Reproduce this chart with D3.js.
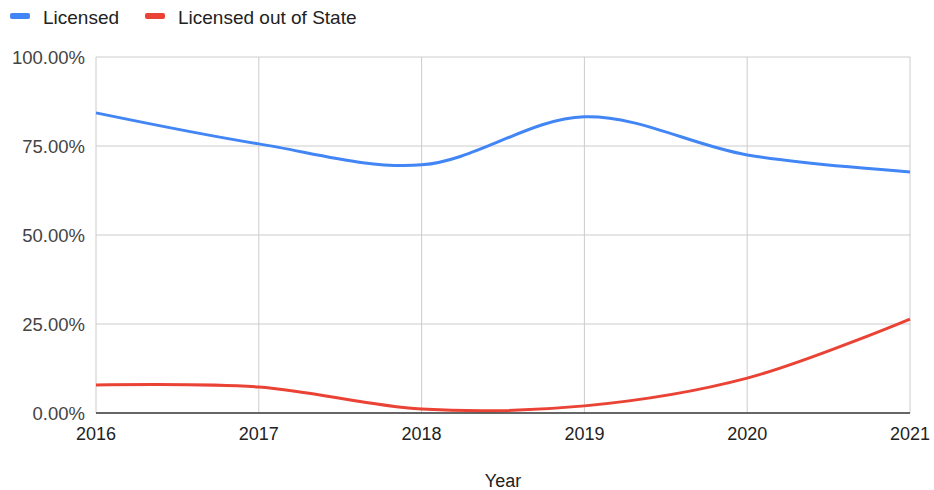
<!DOCTYPE html>
<html>
<head>
<meta charset="utf-8">
<script src="https://cdn.jsdelivr.net/npm/d3@7"></script>
<style>
  body { margin: 0; background: #fff; }
  svg { display: block; font-family: "Liberation Sans", Arial, sans-serif; }
</style>
</head>
<body>
<svg id="chart" width="934" height="490"></svg>
<script>
const years = [2016, 2017, 2018, 2019, 2020, 2021];
const licensed = [0.843, 0.756, 0.697, 0.832, 0.725, 0.677];
const outOfState = [0.079, 0.073, 0.011, 0.020, 0.098, 0.264];
const yTicks = [0, 0.25, 0.5, 0.75, 1];
const seriesNames = ['Licensed', 'Licensed out of State'];
const colors = ['#4285f4', '#ea4335'];

const svg = d3.select('#chart');
const x = d3.scaleLinear().domain([2016, 2021]).range([96, 910]);
const y = d3.scaleLinear().domain([0, 1]).range([413, 57]);

// grid
svg.append('g')
  .selectAll('line')
  .data(yTicks.slice(1))
  .join('line')
  .attr('x1', 96).attr('x2', 910)
  .attr('y1', d => y(d)).attr('y2', d => y(d))
  .attr('stroke', '#cccccc').attr('stroke-width', 1);

svg.append('g')
  .selectAll('line')
  .data(years)
  .join('line')
  .attr('x1', d => x(d)).attr('x2', d => x(d))
  .attr('y1', y(1)).attr('y2', y(0))
  .attr('stroke', '#cccccc').attr('stroke-width', 1);

// y labels
svg.append('g')
  .selectAll('text')
  .data(yTicks)
  .join('text')
  .attr('x', 85)
  .attr('y', d => y(d) + 7)
  .attr('text-anchor', 'end')
  .attr('font-size', 18.5)
  .attr('fill', '#444')
  .text(d3.format('.2%'));

// x labels
svg.append('g')
  .selectAll('text')
  .data(years)
  .join('text')
  .attr('x', d => x(d))
  .attr('y', 440)
  .attr('text-anchor', 'middle')
  .attr('font-size', 18)
  .attr('fill', '#222')
  .text(d => d);

svg.append('text')
  .attr('x', 503).attr('y', 487)
  .attr('text-anchor', 'middle')
  .attr('font-size', 18)
  .attr('fill', '#222')
  .text('Year');

// lines
const line = d3.line()
  .x((d, i) => x(years[i]))
  .y(d => y(d))
  .curve(d3.curveCatmullRom.alpha(0.5));

[licensed, outOfState].forEach((vals, i) => {
  svg.append('path')
    .datum(vals)
    .attr('fill', 'none')
    .attr('stroke', colors[i])
    .attr('stroke-width', 3)
    .attr('d', line);
});

// baseline
svg.append('line')
  .attr('x1', 96).attr('x2', 910)
  .attr('y1', y(0)).attr('y2', y(0))
  .attr('stroke', '#333').attr('stroke-width', 1.5);

// legend
const legendX = [10, 145];
const leg = svg.append('g')
  .selectAll('g')
  .data(seriesNames)
  .join('g')
  .attr('transform', (d, i) => `translate(${legendX[i]},0)`);
leg.append('rect')
  .attr('x', 0).attr('y', 13)
  .attr('width', 20).attr('height', 6)
  .attr('rx', 2)
  .attr('fill', (d, i) => colors[i]);
leg.append('text')
  .attr('x', 33).attr('y', 24)
  .attr('font-size', 19)
  .attr('fill', '#222')
  .text(d => d);
</script>
</body>
</html>
